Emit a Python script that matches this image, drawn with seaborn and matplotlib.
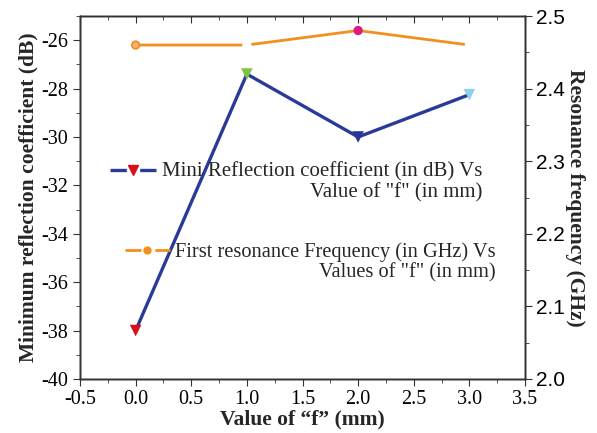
import matplotlib
matplotlib.use('Agg')
import matplotlib.pyplot as plt
from matplotlib.lines import Line2D
from matplotlib.ticker import MultipleLocator
import seaborn as sns

# data
f_values = [0, 1, 2, 3]
min_refl_db = [-38.0, -27.4, -30.0, -28.25]
res_freq_ghz = [2.46, 2.46, 2.48, 2.46]

refl_marker_colors = ['#D7111B', '#7DC242', '#283593', '#8FD0EE']
freq_marker_colors = ['#F6B36A', 'white', '#E0197D', 'white']
freq_edge_colors = ['#F08A24', 'white', '#E0197D', 'white']

legend_lines = [
    ('Mini Reflection coefficient (in dB) Vs', 'Value of "f" (in mm)'),
    ('First resonance Frequency (in GHz) Vs', 'Values of "f" (in mm)'),
]

BLUE = '#2A3A98'
ORANGE = '#F2901E'
SERIF = 'Liberation Serif'
SANS = 'Liberation Sans'

sns.set_style('ticks')
plt.rcParams['font.family'] = SERIF
plt.rcParams['axes.unicode_minus'] = False
plt.rcParams['axes.linewidth'] = 1.0
plt.rcParams['axes.edgecolor'] = '#333333'

fig = plt.figure(figsize=(5.97, 4.33), dpi=100)
ax = fig.add_axes([80 / 597, 1 - 379 / 433, 445 / 597, 363 / 433])
ax2 = ax.twinx()
ax_top = ax.twiny()

sns.lineplot(x=f_values, y=min_refl_db, ax=ax, color=BLUE, linewidth=2.4)
ax.scatter(f_values, min_refl_db, marker='v', s=70, c=refl_marker_colors,
           linewidths=0, zorder=5)

sns.lineplot(x=f_values, y=res_freq_ghz, ax=ax2, color=ORANGE, linewidth=2.0)
ax2.scatter(f_values, res_freq_ghz, marker='o', s=30, c=freq_marker_colors,
            edgecolors=freq_edge_colors, linewidths=1.2, zorder=5)

ax.set_xlim(-0.5, 3.5)
ax_top.set_xlim(-0.5, 3.5)
ax.set_ylim(-40, -25)
ax2.set_ylim(2.0, 2.5)

for a in (ax, ax_top):
    a.xaxis.set_major_locator(MultipleLocator(0.5))
    a.xaxis.set_minor_locator(MultipleLocator(0.25))
ax.yaxis.set_major_locator(MultipleLocator(2))
ax.yaxis.set_minor_locator(MultipleLocator(1))
ax2.yaxis.set_major_locator(MultipleLocator(0.1))
ax2.yaxis.set_minor_locator(MultipleLocator(0.05))

ax.tick_params(axis='both', which='major', direction='out', length=5, labelsize=14.5,
               colors='#333333', labelcolor='black')
ax.tick_params(axis='both', which='minor', direction='out', length=3, colors='#333333')
ax.tick_params(axis='x', which='major', pad=3)
ax2.tick_params(axis='y', which='major', direction='out', length=5, labelsize=15,
                colors='#333333', labelcolor='black', pad=3)
ax2.tick_params(axis='y', which='minor', direction='out', length=3, colors='#333333')
for lab in ax2.get_yticklabels():
    lab.set_fontfamily(SANS)
# top ticks point inward, no labels
ax_top.tick_params(axis='x', which='major', direction='in', length=5, labeltop=False,
                   colors='#333333')
ax_top.tick_params(axis='x', which='minor', direction='in', length=3, colors='#333333')

for a in (ax, ax2, ax_top):
    for s in ['top', 'right', 'left', 'bottom']:
        a.spines[s].set_visible(True)

ax.set_xlabel('Value of \u201cf\u201d (mm)', fontsize=15.5, fontweight='bold', labelpad=0)
ax.set_ylabel('Minimum reflection coefficient (dB)', fontsize=15.5, fontweight='bold',
              labelpad=2)
ax2.set_ylabel('Resonance frequency (GHz)', fontsize=15.5, fontweight='bold',
               rotation=270, labelpad=14)

h1 = Line2D([], [], color=BLUE, linewidth=2.4, linestyle=(0, (4.9, 4.0)),
            marker='v', markersize=6.5, markerfacecolor='#D7111B', markeredgecolor='#D7111B')
h2 = Line2D([], [], color=ORANGE, linewidth=2.0, linestyle=(0, (5.75, 5.0)),
            marker='o', markersize=5, markerfacecolor=ORANGE, markeredgecolor=ORANGE)

leg1 = ax.legend([h1], [legend_lines[0][0]], loc='center left',
                 bbox_to_anchor=(0.067, 0.570), frameon=False, fontsize=15,
                 handlelength=2.2, handletextpad=0.3, borderpad=0, borderaxespad=0)
ax.add_artist(leg1)
leg2 = ax.legend([h2], [legend_lines[1][0]], loc='center left',
                 bbox_to_anchor=(0.101, 0.350), frameon=False, fontsize=14.7,
                 handlelength=2.2, handletextpad=0.25, borderpad=0, borderaxespad=0)

fig.canvas.draw()
for leg, (_, second), fs in zip((leg1, leg2), legend_lines, (15, 14.7)):
    ax.annotate(second, xy=(1, 0), xycoords=leg.get_texts()[0], xytext=(0, -0.6),
                textcoords='offset points', ha='right', va='top', fontsize=fs,
                zorder=6)

fig.savefig('out.png', dpi=100, facecolor='white')
